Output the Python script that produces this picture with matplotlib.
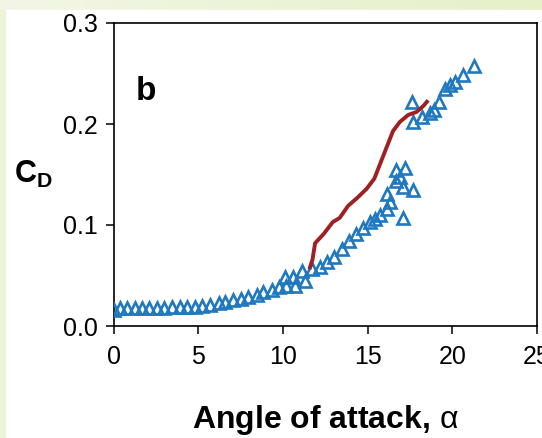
import matplotlib
matplotlib.use("Agg")
import matplotlib.pyplot as plt
import numpy as np
from matplotlib.colors import LinearSegmentedColormap

plt.rcParams["font.family"] = ["Liberation Sans", "DejaVu Sans"]
plt.rcParams["mathtext.fontset"] = "custom"
plt.rcParams["mathtext.rm"] = "Liberation Sans"
plt.rcParams["mathtext.bf"] = "Liberation Sans:bold"

# triangles (measured C_D vs angle of attack)
alpha_pts = [0.0, 0.4, 0.8, 1.25, 1.7, 2.1, 2.55, 3.0, 3.45, 3.9, 4.35, 4.8,
             5.2, 5.7, 6.2, 6.6, 7.05, 7.5, 7.95, 8.45, 8.85, 9.35, 9.75,
             10.1, 10.2, 10.6, 10.7, 11.1, 11.3, 11.7, 12.2, 12.6, 13.0,
             13.5, 13.9, 14.3, 14.75, 15.15, 15.45, 15.75, 16.15, 16.15,
             16.3, 16.65, 16.7, 16.9, 17.1, 17.1, 17.2, 17.7,
             17.6, 17.7, 18.2, 18.7, 18.9, 19.2, 19.55, 19.85, 20.15,
             20.65, 21.3]
cd_pts = [0.016, 0.018, 0.018, 0.018, 0.018, 0.018, 0.018, 0.018, 0.0185,
          0.019, 0.019, 0.019, 0.020, 0.021, 0.0225, 0.024, 0.0255, 0.027,
          0.029, 0.031, 0.034, 0.036, 0.039,
          0.049, 0.040, 0.049, 0.040, 0.054, 0.045, 0.056, 0.058, 0.063,
          0.068, 0.076, 0.084, 0.091, 0.097, 0.103, 0.106, 0.110, 0.116,
          0.131, 0.123, 0.154, 0.144, 0.148, 0.138, 0.107, 0.156, 0.135,
          0.222, 0.202, 0.207, 0.2105, 0.214, 0.222, 0.235, 0.239, 0.242,
          0.249, 0.257]

# red curve
alpha_line = [11.6, 11.75, 11.9, 12.4, 12.95, 13.35, 13.85, 14.4, 14.95,
              15.4, 15.75, 16.1, 16.5, 16.9, 17.4, 17.9, 18.3, 18.5]
cd_line = [0.058, 0.066, 0.082, 0.091, 0.103, 0.107, 0.119, 0.127, 0.136,
           0.146, 0.161, 0.176, 0.193, 0.202, 0.209, 0.212, 0.218, 0.222]

x_ticks = [0, 5, 10, 15, 20, 25]
y_ticks = [0.0, 0.1, 0.2, 0.3]
y_ticklabels = ["0.0", "0.1", "0.2", "0.3"]

BLUE = "#1f78c0"
RED = "#9e2022"

fig = plt.figure(figsize=(5.42, 4.38), dpi=100)
fig.patch.set_facecolor("white")

# pale green frame at top and left
bg = fig.add_axes([0, 0, 1, 1], zorder=-10)
grad = np.linspace(0, 1, 256)[None, :]
cmap = LinearSegmentedColormap.from_list("frame", ["#f3f6e6", "#e6f0c9"])
bg.imshow(grad, aspect="auto", cmap=cmap, extent=[0, 1, 0, 1])
bg.add_patch(plt.Rectangle((5 / 542, 0), 1, 1 - 10 / 438, color="white",
                           transform=bg.transAxes))
bg.add_patch(plt.Rectangle((0, 0), 5 / 542, 1 - 10 / 438, color="#ecf4d6",
                           transform=bg.transAxes))
bg.set_axis_off()

ax = fig.add_axes([113.5 / 542, (438 - 326) / 438,
                   (537 - 113.5) / 542, (326 - 23) / 438])
ax.set_facecolor("white")

ax.plot(alpha_pts, cd_pts, linestyle="none", marker="^", ms=9,
        mfc="none", mec=BLUE, mew=1.9, zorder=3)
ax.plot(alpha_line, cd_line, color=RED, lw=2.8, zorder=4,
        solid_joinstyle="round")

ax.set_xlim(0, 25)
ax.set_ylim(0, 0.3)
ax.set_xticks(x_ticks)
ax.set_yticks(y_ticks)
ax.set_yticklabels(y_ticklabels)
ax.tick_params(direction="out", length=6, width=1.1, labelsize=18)
ax.tick_params(axis="x", pad=8)
ax.tick_params(axis="y", pad=5)
for s in ax.spines.values():
    s.set_linewidth(1.2)

ax.text(1.3, 0.232, "b", fontsize=24, fontweight="bold", va="center")

ax.set_xlabel(r"Angle of attack, $\mathrm{\alpha}$", fontsize=23,
              fontweight="bold")
ax.xaxis.set_label_coords(0.5, -(420 - 326) / 303)
ax.xaxis.label.set_va("center")

ax.set_ylabel(r"$\mathbf{C}_\mathbf{D}$", fontsize=22, rotation=0)
ax.yaxis.set_label_coords(-(113.5 - 14) / 423.5, (326 - 174) / 303)
ax.yaxis.label.set_ha("left")
ax.yaxis.label.set_va("center")

fig.savefig("out.png", dpi=100)
